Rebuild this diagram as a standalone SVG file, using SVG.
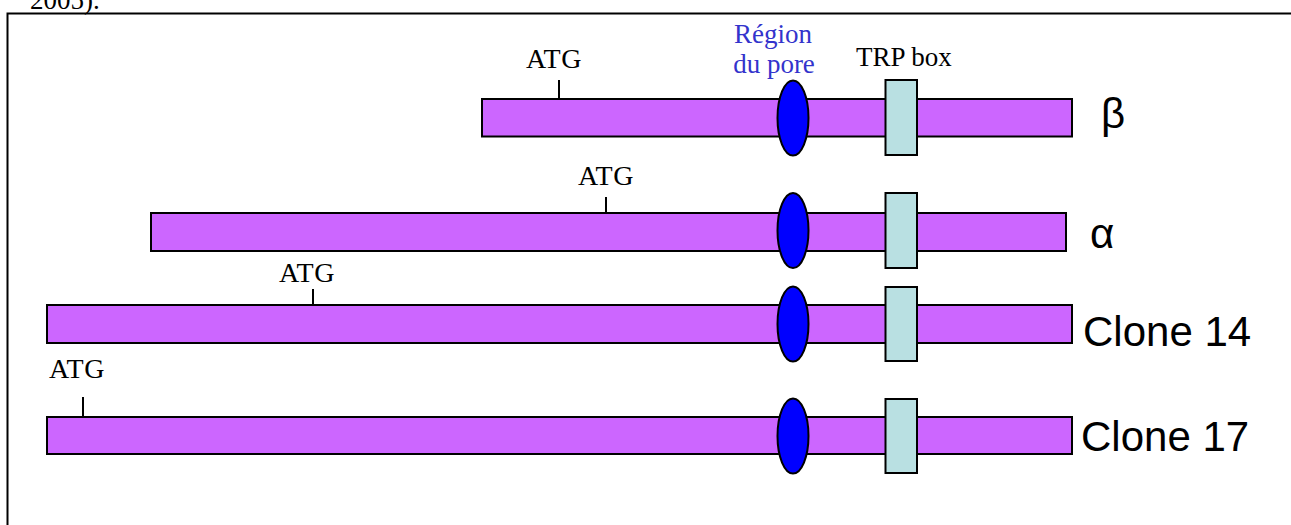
<svg xmlns="http://www.w3.org/2000/svg" width="1291" height="525" viewBox="0 0 1291 525">
<style>
.bar{fill:#cc66ff;stroke:#000;stroke-width:2}
.pore{fill:#0000ff;stroke:#000;stroke-width:2}
.trp{fill:#b9e0e2;stroke:#000;stroke-width:2}
.tick{stroke:#000;stroke-width:2}
.serif{font-family:"Liberation Serif","Times New Roman",serif;font-size:27px;fill:#000}
.atg{font-size:28px;letter-spacing:0.5px}
.blue{fill:#3333cc}
.sans{font-family:"Liberation Sans",Arial,sans-serif;font-size:42px;fill:#000}
</style>
<rect width="1291" height="525" fill="#fff"/>
<text class="serif" x="30" y="9">2005).</text>
<path d="M7.5 525V13.5H1292" fill="none" stroke="#000" stroke-width="2"/>
<g id="labels-top">
<text class="serif blue" x="773" y="43" text-anchor="middle">Région</text>
<text class="serif blue" x="774" y="73" text-anchor="middle">du pore</text>
<text class="serif" x="856" y="66">TRP box</text>
</g>
<g id="beta">
<rect class="bar" x="482" y="99" width="590" height="37.5"/>
<line class="tick" x1="559" y1="80" x2="559" y2="99"/>
<text class="serif atg" x="526" y="68">ATG</text>
<ellipse class="pore" cx="793" cy="118" rx="15.5" ry="37.5"/>
<rect class="trp" x="885.5" y="80" width="31.5" height="75"/>
<text class="sans" x="1101" y="128" font-size="44">β</text>
</g>
<g id="alpha">
<rect class="bar" x="151" y="213" width="915" height="38"/>
<line class="tick" x1="606" y1="197" x2="606" y2="213"/>
<text class="serif atg" x="578" y="185">ATG</text>
<ellipse class="pore" cx="793" cy="230.5" rx="15.5" ry="37.5"/>
<rect class="trp" x="885.5" y="193" width="31.5" height="75"/>
<text class="sans" x="1090" y="248">α</text>
</g>
<g id="clone14">
<rect class="bar" x="47" y="305" width="1025" height="38"/>
<line class="tick" x1="313" y1="289" x2="313" y2="305"/>
<text class="serif atg" x="279" y="282">ATG</text>
<ellipse class="pore" cx="793" cy="324" rx="15.5" ry="37.5"/>
<rect class="trp" x="885.5" y="287" width="31.5" height="74"/>
<text class="sans" x="1083" y="346">Clone 14</text>
</g>
<g id="clone17">
<rect class="bar" x="47" y="417" width="1025" height="37"/>
<line class="tick" x1="83" y1="397" x2="83" y2="417"/>
<text class="serif atg" x="49" y="378">ATG</text>
<ellipse class="pore" cx="793" cy="436" rx="15.5" ry="37.5"/>
<rect class="trp" x="885.5" y="399" width="31.5" height="74"/>
<text class="sans" x="1081" y="451">Clone 17</text>
</g>
<g id="connectors"></g>
</svg>
